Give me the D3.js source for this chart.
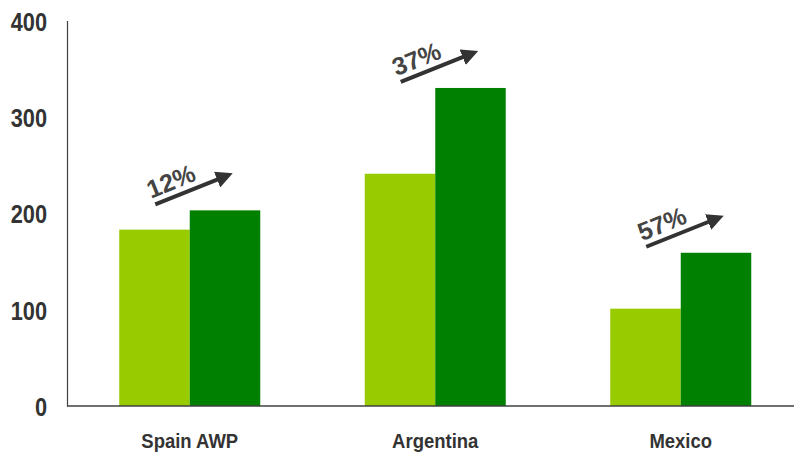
<!DOCTYPE html>
<html><head><meta charset="utf-8">
<script src="https://cdn.jsdelivr.net/npm/d3@7"></script>
<style>body{margin:0;background:#fff}svg{display:block}</style>
</head><body>
<svg id="c" width="794" height="454"></svg>
<script>
const categories = ["Spain AWP", "Argentina", "Mexico"];
const seriesBefore = [183, 241, 101];
const seriesAfter = [203, 330, 159];
const growthLabels = ["12%", "37%", "57%"];
const yTicks = [0, 100, 200, 300, 400];

(function () {
const svg = d3.select("#c");
const mLeft = 67, mTop = 20.5, mBottom = 406, mRight = 803.5;
const x = d3.scaleBand().domain(categories).range([mLeft, mRight]).padding(0);
const groupW = 141;
const off = (x.bandwidth() - groupW) / 2;
const sub = d3.scaleBand().domain([0, 1]).range([off, off + groupW]).padding(0);
const y = d3.scaleLinear().domain([0, 400]).range([mBottom, mTop]);
const colors = ["#99CC00", "#008000"];
const fam = "'Liberation Sans',Arial,sans-serif";
function condense(sel, k) {
  sel.each(function () {
    const w = this.getComputedTextLength();
    d3.select(this).attr("textLength", w * k).attr("lengthAdjust", "spacingAndGlyphs");
  });
}

[seriesBefore, seriesAfter].forEach((s, si) => {
  svg.append("g").selectAll("rect").data(s).join("rect")
    .attr("x", (d, i) => x(categories[i]) + sub(si))
    .attr("width", sub.bandwidth())
    .attr("y", d => y(d))
    .attr("height", d => y(0) - y(d))
    .attr("fill", colors[si]);
});

const yAxis = svg.append("g").attr("transform", `translate(${mLeft},0)`)
  .call(d3.axisLeft(y).tickValues(yTicks).tickSize(0).tickPadding(20));
yAxis.select(".domain").attr("stroke", "#404040").attr("stroke-width", 1.2);
yAxis.selectAll("text").attr("font-family", fam).attr("font-weight", "bold")
  .attr("font-size", 26.5).attr("fill", "#333").attr("dy", "0.36em");
condense(yAxis.selectAll("text"), 0.82);

svg.append("line").attr("x1", mLeft).attr("x2", 794).attr("y1", mBottom).attr("y2", mBottom)
  .attr("stroke", "#404040").attr("stroke-width", 1.5);

const xAxis = svg.append("g").attr("transform", `translate(0,${mBottom})`)
  .call(d3.axisBottom(x).tickSize(0).tickPadding(27));
xAxis.select(".domain").remove();
xAxis.selectAll("text").attr("font-family", fam).attr("font-weight", "bold")
  .attr("font-size", 21).attr("fill", "#333");
condense(xAxis.selectAll("text"), 0.88);

const defs = svg.append("defs");
defs.append("marker").attr("id", "ah").attr("viewBox", "0 0 10 10").attr("refX", 2).attr("refY", 5)
  .attr("markerWidth", 4.2).attr("markerHeight", 4.2).attr("orient", "auto")
  .append("path").attr("d", "M0,0 L10,5 L0,10 Z").attr("fill", "#333");

categories.forEach((c, i) => {
  const sx = x(c) + sub(0) + 36;
  const sy = y(seriesAfter[i]) - 6;
  const ex = sx + 65, ey = sy - 26;
  svg.append("line").attr("x1", sx).attr("y1", sy).attr("x2", ex).attr("y2", ey)
    .attr("stroke", "#333").attr("stroke-width", 4).attr("marker-end", "url(#ah)");
  svg.append("text").attr("transform", `translate(${sx + 19},${sy - 15}) rotate(-22)`)
    .attr("text-anchor", "middle").attr("font-family", fam)
    .attr("font-weight", "bold").attr("font-size", 25).attr("fill", "#444")
    .text(growthLabels[i]);
});
})();
</script>
</body></html>
